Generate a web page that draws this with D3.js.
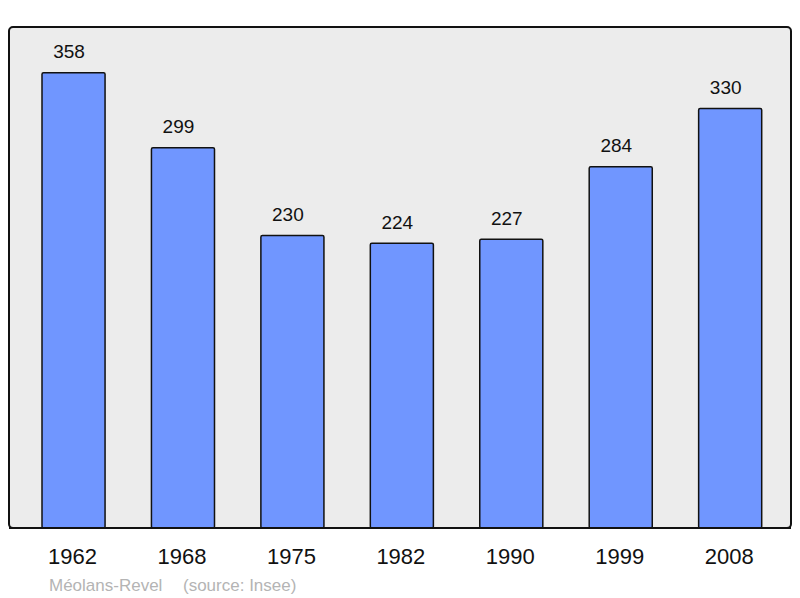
<!DOCTYPE html>
<html><head><meta charset="utf-8">
<script src="https://cdn.jsdelivr.net/npm/d3@7"></script>
<style>body{margin:0;background:#fff}svg{display:block}</style>
</head><body>
<script>
const years = ["1962","1968","1975","1982","1990","1999","2008"];
const population = [358,299,230,224,227,284,330];
const commune = "Méolans-Revel";
const source = "(source: Insee)";

const W = 800, H = 598;
const svg = d3.select("body").append("svg").attr("width", W).attr("height", H)
  .style("font-family", "'Liberation Sans', Arial, sans-serif");

const plot = {x0: 9, x1: 791, y0: 27, y1: 528};

svg.append("rect")
  .attr("x", plot.x0).attr("y", plot.y0)
  .attr("width", plot.x1 - plot.x0).attr("height", plot.y1 - plot.y0)
  .attr("rx", 4).attr("ry", 4)
  .attr("fill", "#ececec").attr("stroke", "#111").attr("stroke-width", 2);

const x = d3.scaleBand().domain(years).range([42, 761.7]).paddingInner(0.4238).paddingOuter(0);
const y = d3.scaleLinear().domain([0, 394]).range([plot.y1, plot.y0]);

const data = years.map((yr, i) => ({year: yr, value: population[i]}));

svg.append("g").selectAll("rect").data(data).join("rect")
  .attr("x", d => x(d.year))
  .attr("y", d => y(d.value))
  .attr("width", x.bandwidth())
  .attr("height", d => y(0) - y(d.value))
  .attr("rx", 1.5)
  .attr("fill", "#7096ff").attr("stroke", "#111").attr("stroke-width", 1.5);

svg.append("g").selectAll("text").data(data).join("text")
  .attr("x", d => x(d.year) + x.bandwidth()/2 - 4.5)
  .attr("y", d => y(d.value) - 14.5)
  .attr("text-anchor", "middle")
  .attr("font-size", 19)
  .attr("fill", "#111")
  .text(d => d.value);

svg.append("line").attr("x1", plot.x0).attr("x2", plot.x1)
  .attr("y1", plot.y1).attr("y2", plot.y1)
  .attr("stroke", "#111").attr("stroke-width", 2);

const xAxis = d3.axisBottom(x).tickSize(0).tickPadding(0);
const gx = svg.append("g").attr("transform", `translate(-1,${plot.y1})`).call(xAxis);
gx.select(".domain").remove();
gx.selectAll("text")
  .attr("dy", null).attr("y", 35.5)
  .attr("font-size", 22).attr("fill", "#111")
  .attr("font-family", "'Liberation Sans', Arial, sans-serif");

svg.append("text").attr("x", 49).attr("y", 591)
  .attr("font-size", 17).attr("fill", "#b4b4b4").text(commune);
svg.append("text").attr("x", 183).attr("y", 591)
  .attr("font-size", 17).attr("fill", "#b4b4b4").text(source);
</script>
</body></html>
